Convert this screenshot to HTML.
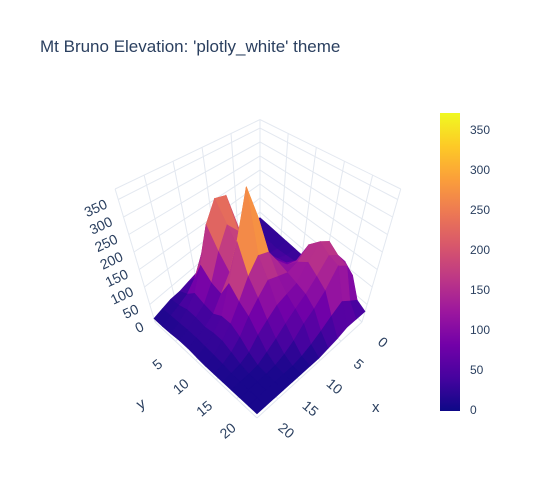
<!DOCTYPE html>
<html><head><meta charset="utf-8"><style>
body{margin:0;background:#fff;font-family:"Liberation Sans",sans-serif}
</style></head><body>
<svg id="chart" width="535" height="475" xmlns="http://www.w3.org/2000/svg">
<rect width="535" height="475" fill="#fff"/>
<text x="40" y="52" font-size="17" fill="#2a3f5f" font-family="Liberation Sans, sans-serif">Mt Bruno Elevation: 'plotly_white' theme</text>
<g id="grid"></g><g id="surf"></g><g id="labels"></g>
<defs><linearGradient id="cbg" x1="0" y1="1" x2="0" y2="0">
<stop offset="0" stop-color="#0d0887"/><stop offset="0.111" stop-color="#46039f"/><stop offset="0.222" stop-color="#7201a8"/><stop offset="0.333" stop-color="#9c179e"/><stop offset="0.444" stop-color="#bd3786"/><stop offset="0.556" stop-color="#d8576b"/><stop offset="0.667" stop-color="#ed7953"/><stop offset="0.778" stop-color="#fb9f3a"/><stop offset="0.889" stop-color="#fdca26"/><stop offset="1" stop-color="#f0f921"/></linearGradient></defs>
<rect x="440" y="113" width="20" height="298" fill="url(#cbg)"/>
<g id="cb"></g>
</svg>
<script>
const zTicks=[0,50,100,150,200,250,300,350];
const cbTicks=[0,50,100,150,200,250,300,350];
const xTickLabels=["0","5","10","15","20"];
const yTickLabels=["5","10","15","20"];
const zRows=[
[30,30,30,30,30,30,40,60,90,110,90,40,30],
[30,30,30,30,35,40,60,130,170,150,140,60,30],
[30,30,35,40,50,60,90,160,190,170,160,80,30],
[30,40,60,70,80,90,100,130,150,130,110,60,20],
[30,80,140,120,100,130,130,120,110,100,80,40,15],
[30,130,270,180,140,260,180,130,100,80,60,25,10],
[30,150,280,220,170,370,190,140,90,60,35,15,10],
[30,110,220,160,120,230,150,110,70,40,20,10,10],
[25,60,120,90,80,130,100,80,50,25,12,10,10],
[20,35,60,50,45,60,60,45,25,12,10,10,10],
[20,25,35,35,30,35,35,25,15,10,10,10,10],
[15,18,20,22,22,20,18,15,12,10,10,10,10],
[10,10,12,15,15,12,10,10,10,10,10,10,10]];
const NS="http://www.w3.org/2000/svg";
const Bk=[260,226],Lc=[155,322],Rc=[362,322];
function P(a,b,z){const k=0.28+0.14*(a+b)/2;let x=Bk[0]+a*(Lc[0]-Bk[0])+b*(Rc[0]-Bk[0]);x=260+(x-260)*(1+z*0.001);return [x,Bk[1]+a*(Lc[1]-Bk[1])+b*(Rc[1]-Bk[1])-z*k];}
const stops=[[13,8,135],[70,3,159],[114,1,168],[156,23,158],[189,55,134],[216,87,107],[237,121,83],[251,159,58],[253,202,38],[240,249,33]];
function col(z){let t=Math.max(0,Math.min(1,z/370))*9;let i=Math.min(8,Math.floor(t)),f=t-i;const c=stops[i].map((v,k)=>Math.round(v+(stops[i+1][k]-v)*f));return `rgb(${c})`;}
function el(tag,at,parent){const e=document.createElementNS(NS,tag);for(const k in at)e.setAttribute(k,at[k]);parent.appendChild(e);return e;}
const grid=document.getElementById('grid'),surf=document.getElementById('surf'),lab=document.getElementById('labels'),cb=document.getElementById('cb');
const gs={stroke:"#e3e8f0","stroke-width":1,fill:"none"};
zTicks.concat([380]).forEach(z=>{const a=P(1,0,z),b=P(0,0,z),c=P(0,1,z);const l=el('polyline',Object.assign({points:`${a} ${b} ${c}`},gs),grid);});
for(let t=0;t<=1.001;t+=0.2){const a=P(t,0,0),b=P(t,0,380),c=P(0,t,0),d=P(0,t,380);
const l1=el('line',Object.assign({x1:a[0],y1:a[1],x2:b[0],y2:b[1]},gs),grid);
const l2=el('line',Object.assign({x1:c[0],y1:c[1],x2:d[0],y2:d[1]},gs),grid);}
for(let t=0;t<=1.001;t+=0.2){const a=P(t,0,0),b=P(t,1,0),c=P(0,t,0),d=P(1,t,0);el('line',Object.assign({x1:a[0],y1:a[1],x2:b[0],y2:b[1]},gs),grid);el('line',Object.assign({x1:c[0],y1:c[1],x2:d[0],y2:d[1]},gs),grid);}
const n=zRows.length-1,m=zRows[0].length-1,quads=[];
for(let i=0;i<n;i++)for(let j=0;j<m;j++)quads.push([i,j]);
quads.sort((p,q)=>(p[0]+p[1])-(q[0]+q[1]));
quads.forEach(([i,j])=>{const z=[zRows[i][j],zRows[i+1][j],zRows[i+1][j+1],zRows[i][j+1]];
const pts=[P(i/n,j/m,z[0]),P((i+1)/n,j/m,z[1]),P((i+1)/n,(j+1)/m,z[2]),P(i/n,(j+1)/m,z[3])];
const avg=(z[0]+z[1]+z[2]+z[3])/4;const mx=Math.max(...z);const c=col(avg*0.5+mx*0.4);
const q=el('polygon',{points:pts.map(p=>p.join(',')).join(' '),fill:c,stroke:c,'stroke-width':0.6},surf);

});
const ts={fill:"#2a3f5f","font-size":14,"font-family":"Liberation Sans, sans-serif"};
zTicks.forEach(z=>{const p=P(1,0,z);const t=el('text',Object.assign({x:p[0]-10,y:p[1]+8,'text-anchor':'end',transform:`rotate(-25 ${p[0]-10} ${p[1]+8})`},ts),lab);t.textContent=z;});
xTickLabels.forEach((s,i)=>{const p=P(i/4*0.92+0.04,1,0);const t=el('text',Object.assign({x:p[0]+22,y:p[1]+20,'text-anchor':'middle',transform:`rotate(40 ${p[0]+22} ${p[1]+20})`},ts),lab);t.textContent=s;});
yTickLabels.forEach((s,i)=>{const p=P(1,(i+1)/4*0.92,0);const t=el('text',Object.assign({x:p[0]-18,y:p[1]+24,'text-anchor':'middle',transform:`rotate(-40 ${p[0]-18} ${p[1]+24})`},ts),lab);t.textContent=s;});
let t=el('text',Object.assign({x:372,y:412},ts,{"font-size":15}),lab);t.textContent='x';
t=el('text',Object.assign({x:140,y:410,transform:'rotate(-30 140 410)'},ts,{"font-size":15}),lab);t.textContent='y';
cbTicks.forEach(v=>{const y=410-v*0.8;const tt=el('text',Object.assign({x:470,y:y+4},ts,{"font-size":12}),cb);tt.textContent=v;});
</script>
</body></html>
